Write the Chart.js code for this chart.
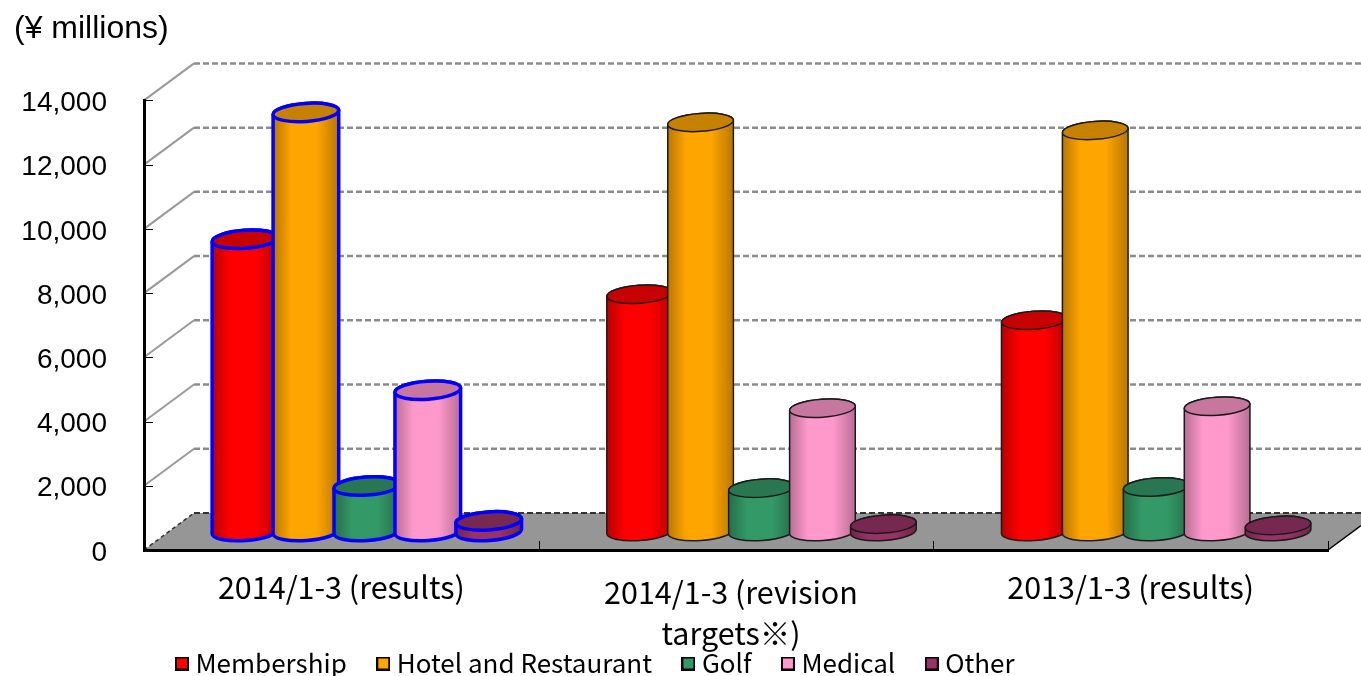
<!DOCTYPE html>
<html>
<head>
<meta charset="utf-8">
<script src="https://cdn.jsdelivr.net/npm/chart.js@4/dist/chart.umd.min.js"></script>
<style>
  html, body { margin: 0; padding: 0; background: #fff; }
  #wrap { width: 1361px; height: 676px; overflow: hidden; }
</style>
</head>
<body>
<div id="wrap"><canvas id="chart" width="1361" height="676"></canvas></div>
<script>
const categories = ["2014/1-3 (results)", ["2014/1-3 (revision", "targets※)"], "2013/1-3 (results)"]
const seriesNames = ["Membership", "Hotel and Restaurant", "Golf", "Medical", "Other"]
const membership = [9100, 7390, 6580]
const hotel = [13050, 12740, 12490]
const golf = [1415, 1350, 1385]
const medical = [4400, 3840, 3900]
const other = [330, 230, 190]
const seriesValues = [membership, hotel, golf, medical, other]
const seriesColors = ["#FF0000", "#FFA500", "#339966", "#FF99CC", "#993366"]
const edgeColors = ["#0000FF", "#1A1A1A", "#1A1A1A"]
const edgeWidths = [3.5, 1.5, 1.5]
const yTicks = [0, 2000, 4000, 6000, 8000, 10000, 12000, 14000]

const LABEL_FONT = "'Noto Sans CJK JP', sans-serif"
const SANS_FONT = "'Liberation Sans', Arial, sans-serif"
const DEPTH_X = 50
const DEPTH_Y = 37
const TILT = -4 * Math.PI / 180

function shade(hex, k) {
  const n = parseInt(hex.slice(1), 16)
  const r = Math.round((n >> 16 & 255) * k)
  const g = Math.round((n >> 8 & 255) * k)
  const b = Math.round((n & 255) * k)
  return `rgb(${r},${g},${b})`
}

function swatch(color) {
  const c = document.createElement('canvas')
  c.width = 14
  c.height = 14
  const g = c.getContext('2d')
  g.fillStyle = '#000'
  g.fillRect(0, 0, 14, 14)
  g.fillStyle = color
  g.fillRect(2, 2, 10, 10)
  return c
}

function drawCylinder(ctx, el, color, edge, lineWidth) {
  const w = el.width * 1.08
  const a = w / 2
  const b = 9
  const cx = el.x + DEPTH_X / 2 + 0.5
  const topY = el.y - DEPTH_Y / 2
  const baseY = el.base - DEPTH_Y / 2
  const dx = a * Math.cos(TILT)
  const dy = a * Math.sin(TILT)

  const grad = ctx.createLinearGradient(cx - a, 0, cx + a, 0)
  grad.addColorStop(0, shade(color, 0.72))
  grad.addColorStop(0.28, color)
  grad.addColorStop(0.66, color)
  grad.addColorStop(1, shade(color, 0.72))

  ctx.beginPath()
  ctx.moveTo(cx - dx, topY - dy)
  ctx.lineTo(cx - dx, baseY - dy)
  ctx.ellipse(cx, baseY, a, b, TILT, Math.PI, 0, true)
  ctx.lineTo(cx + dx, topY + dy)
  ctx.ellipse(cx, topY, a, b, TILT, 0, Math.PI, true)
  ctx.closePath()
  ctx.fillStyle = grad
  ctx.fill()
  ctx.lineWidth = lineWidth
  ctx.strokeStyle = edge
  ctx.stroke()

  ctx.beginPath()
  ctx.ellipse(cx, topY, a, b, TILT, 0, Math.PI * 2)
  ctx.fillStyle = shade(color, 0.78)
  ctx.fill()
  ctx.stroke()
}

// floor, back wall and the side wall lines
const wallPlugin = {
  id: 'wall',
  afterLayout(chart) {
    const { x, y } = chart.scales
    // tick labels get clipped to the scale box, the second line of a label runs past it
    x.bottom = chart.height
    chart.legend.left += 1.5
    chart.legend.top += 2
    // small nudges the tick options have no setting for
    y.getLabelItems(chart.chartArea).forEach(item => { item.options.translation[1] += 3 })
    x.getLabelItems(chart.chartArea)[1].options.translation[0] -= 5
  },
  beforeDraw(chart) {
    const { ctx, scales: { x, y }, chartArea: area } = chart
    const y0 = y.getPixelForValue(0)
    ctx.save()
    ctx.fillStyle = '#969696'
    ctx.beginPath()
    ctx.moveTo(area.left, y0)
    ctx.lineTo(area.left + DEPTH_X, y0 - DEPTH_Y)
    ctx.lineTo(1361, y0 - DEPTH_Y)
    ctx.lineTo(1361, y0 - 33 * DEPTH_Y / DEPTH_X)
    ctx.lineTo(area.right, y0)
    ctx.closePath()
    ctx.fill()

    ctx.strokeStyle = '#000'
    ctx.lineWidth = 1.5
    ctx.beginPath()
    ctx.moveTo(area.right, y0)
    ctx.lineTo(1361, y0 - 33 * DEPTH_Y / DEPTH_X)
    ctx.stroke()

    yTicks.forEach(v => {
      const py = y.getPixelForValue(v)
      ctx.setLineDash(v === 0 ? [4, 3] : [])
      ctx.strokeStyle = v === 0 ? '#333' : '#999'
      ctx.lineWidth = v === 0 ? 1.5 : 2
      ctx.beginPath()
      ctx.moveTo(area.left, py)
      ctx.lineTo(area.left + DEPTH_X, py - DEPTH_Y)
      ctx.stroke()

      ctx.setLineDash([6, 3])
      ctx.strokeStyle = v === 0 ? '#333' : '#8c8c8c'
      ctx.lineWidth = v === 0 ? 2 : 2.5
      ctx.beginPath()
      ctx.moveTo(area.left + DEPTH_X, py - DEPTH_Y)
      ctx.lineTo(1361, py - DEPTH_Y)
      ctx.stroke()
    })
    ctx.restore()
  },
  afterDraw(chart) {
    const { ctx, scales: { x, y }, chartArea: area } = chart
    ctx.save()
    ctx.strokeStyle = '#000'
    ctx.lineWidth = 1
    yTicks.forEach(v => {
      const py = Math.round(y.getPixelForValue(v)) + 0.5
      ctx.beginPath()
      ctx.moveTo(area.left, py)
      ctx.lineTo(area.left + 9, py)
      ctx.stroke()
    })
    for (let i = 0; i <= categories.length; i++) {
      const px = Math.round(x.getPixelForValue(i - 0.5)) + 0.5
      ctx.beginPath()
      ctx.moveTo(px, area.bottom)
      ctx.lineTo(px, area.bottom - 9)
      ctx.stroke()
    }
    ctx.restore()
  }
}

// the bars are turned into cylinders, standing half way back on the floor
const cylinderPlugin = {
  id: 'cylinder',
  beforeDatasetsDraw(chart) {
    const ctx = chart.ctx
    ctx.save()
    categories.forEach((c, i) => {
      chart.data.datasets.forEach((ds, d) => {
        const el = chart.getDatasetMeta(d).data[i]
        drawCylinder(ctx, el, seriesColors[d], edgeColors[i], edgeWidths[i])
      })
    })
    ctx.restore()
    return false
  }
}

const datasets = seriesNames.map((name, i) => ({
  label: name,
  data: seriesValues[i],
  backgroundColor: seriesColors[i],
}))

new Chart(document.getElementById('chart'), {
  type: 'bar',
  data: { labels: categories, datasets: datasets },
  plugins: [wallPlugin, cylinderPlugin],
  options: {
    responsive: false,
    animation: false,
    layout: { padding: { left: 14, right: 33, top: 0, bottom: -8.5 } },
    datasets: { bar: { categoryPercentage: 0.772, barPercentage: 1 } },
    plugins: {
      title: {
        display: true,
        text: '(¥ millions)',
        align: 'start',
        color: '#000',
        font: { family: SANS_FONT, size: 32, weight: 'normal', lineHeight: 1.2 },
        padding: { top: 10, bottom: 52 },
      },
      legend: {
        position: 'bottom',
        align: 'start',
        fullSize: false,
        labels: {
          color: '#000',
          font: { family: LABEL_FONT, size: 26 },
          usePointStyle: true,
          pointStyleWidth: 1,
          padding: 36,
          generateLabels(chart) {
            return seriesNames.map((name, i) => ({
              text: name,
              datasetIndex: i,
              pointStyle: swatch(seriesColors[i]),
              fontColor: '#000',
            }))
          },
        },
      },
      tooltip: { enabled: false },
    },
    scales: {
      x: {
        grid: { display: false, drawTicks: false },
        border: { display: true, color: '#000', width: 3 },
        afterFit(scale) { scale.height = 62.5 },
        ticks: {
          autoSkip: false,
          maxRotation: 0,
          color: '#000',
          padding: 21.5,
          crossAlign: 'near',
          font: ctx => ({ family: LABEL_FONT, size: 30.5, lineHeight: ctx.index === 1 ? '41px' : '31px' }),
        },
      },
      y: {
        min: 0,
        max: 14000,
        grid: { display: false, drawTicks: false },
        border: { display: true, color: '#000', width: 3 },
        afterFit(scale) { scale.width = 130 },
        afterBuildTicks(scale) { scale.ticks = yTicks.map(v => ({ value: v })) },
        ticks: {
          color: '#000',
          padding: 37,
          font: { family: SANS_FONT, size: 28 },
          callback: v => v.toLocaleString('en-US'),
        },
      },
    },
  },
})
</script>
</body>
</html>
